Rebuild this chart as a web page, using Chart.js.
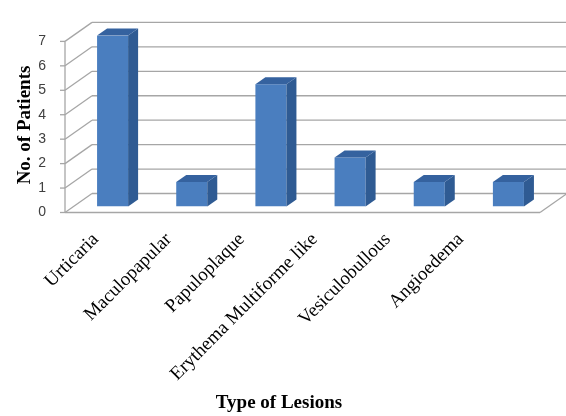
<!DOCTYPE html>
<html>
<head>
<meta charset="utf-8">
<script src="https://cdn.jsdelivr.net/npm/chart.js@4.4.1/dist/chart.umd.min.js"></script>
<style>
  html, body { margin: 0; padding: 0; background: #ffffff; }
  canvas { display: block; }
</style>
</head>
<body>
<canvas id="grafico" width="566" height="416"></canvas>
<script>
// datos del grafico
const lesiones = ["Urticaria", "Maculopapular", "Papuloplaque", "Erythema Multiforme like", "Vesiculobullous", "Angioedema"];
const pacientes = [7, 1, 5, 2, 1, 1];
const marcasY = [0, 1, 2, 3, 4, 5, 6, 7];
const tituloY = "No. of Patients";
const tituloX = "Type of Lesions";

// desplazamientos de la perspectiva 3D (en pixeles)
const FRENTE = { dx: -8, dy: 6 };    // plano frontal respecto al plano de las barras
const FONDO = { dx: 19, dy: -13 };   // pared del fondo respecto al plano de las barras
const PROF_BARRA = { dx: 10, dy: -7 }; // profundidad de cada barra

const colorFrente = "#4a7ebf";
const colorLado = "#2f5b93";
const colorTecho = "#35629f";
const colorRejilla = "#a6a6a6";
const fuenteSerif = "'Liberation Serif', 'Times New Roman', serif";

const linea = (c, x1, y1, x2, y2) => {
  c.beginPath();
  c.moveTo(x1, y1);
  c.lineTo(x2, y2);
  c.stroke();
};

const poligono = (c, puntos, color) => {
  c.beginPath();
  c.moveTo(puntos[0][0], puntos[0][1]);
  for (let i = 1; i < puntos.length; i++) c.lineTo(puntos[i][0], puntos[i][1]);
  c.closePath();
  c.fillStyle = color;
  c.fill();
};

//***************** PAREDES Y REJILLA *****************/
const paredes3D = {
  id: "paredes3D",
  beforeDatasetsDraw(chart) {
    const c = chart.ctx;
    const area = chart.chartArea;
    const ejeY = chart.scales.y;
    c.save();
    c.strokeStyle = colorRejilla;
    c.lineWidth = 1.3;

    marcasY.forEach((v) => {
      const y = ejeY.getPixelForValue(v);
      // pared del fondo
      linea(c, area.left + FONDO.dx, y + FONDO.dy, area.right + FONDO.dx, y + FONDO.dy);
      // pared izquierda
      linea(c, area.left + FRENTE.dx, y + FRENTE.dy, area.left + FONDO.dx, y + FONDO.dy);
      // marcas del eje
      linea(c, area.left + FRENTE.dx - 5, y + FRENTE.dy, area.left + FRENTE.dx, y + FRENTE.dy);
    });

    const yCero = ejeY.getPixelForValue(0);
    const yTope = ejeY.getPixelForValue(marcasY[marcasY.length - 1]);
    // arista frontal de la pared izquierda
    linea(c, area.left + FRENTE.dx, yTope + FRENTE.dy, area.left + FRENTE.dx, yCero + FRENTE.dy);
    // suelo
    linea(c, area.left + FRENTE.dx, yCero + FRENTE.dy, area.right + FRENTE.dx, yCero + FRENTE.dy);
    linea(c, area.right + FRENTE.dx, yCero + FRENTE.dy, area.right + FONDO.dx, yCero + FONDO.dy);
    c.restore();
  },

  //***************** LADOS DE LAS BARRAS ***************/
  afterDatasetsDraw(chart) {
    const c = chart.ctx;
    const meta = chart.getDatasetMeta(0);
    c.save();
    meta.data.forEach((barra) => {
      const { x, y, base, width } = barra.getProps(["x", "y", "base", "width"], true);
      const izq = x - width / 2;
      const der = x + width / 2;
      poligono(c, [
        [der, y], [der + PROF_BARRA.dx, y + PROF_BARRA.dy],
        [der + PROF_BARRA.dx, base + PROF_BARRA.dy], [der, base]
      ], colorLado);
      poligono(c, [
        [izq, y], [izq + PROF_BARRA.dx, y + PROF_BARRA.dy],
        [der + PROF_BARRA.dx, y + PROF_BARRA.dy], [der, y]
      ], colorTecho);
    });
    c.restore();
  },

  //***************** ETIQUETAS Y TITULOS ***************/
  afterDraw(chart) {
    const c = chart.ctx;
    const ejeX = chart.scales.x;
    const yCero = chart.scales.y.getPixelForValue(0);
    c.save();
    c.fillStyle = "#000000";

    // etiquetas de categoria inclinadas 45 grados (con la perspectiva del suelo)
    c.font = "19px " + fuenteSerif;
    c.textAlign = "right";
    c.textBaseline = "middle";
    ejeX.ticks.forEach((marca, i) => {
      const xb = ejeX.getPixelForTick(i);
      const xe = 0.922 * xb - 8;
      c.save();
      c.translate(xe, yCero + 30);
      c.rotate(-Math.PI / 4);
      c.fillText(ejeX.getLabelForValue(marca.value), 0, 0);
      c.restore();
    });

    c.font = "bold 19px " + fuenteSerif;
    c.textAlign = "center";
    c.fillText(tituloX, 279, 403);
    c.translate(25, 125);
    c.rotate(-Math.PI / 2);
    c.fillText(tituloY, 0, 0);
    c.restore();
  }
};

//***************** DIBUJANDO EL GRAFICO **************/
const ctx = document.getElementById("grafico");

new Chart(ctx, {
  type: "bar",
  data: {
    labels: lesiones,
    datasets: [
      {
        label: tituloY,
        data: pacientes,
        backgroundColor: colorFrente,
        borderWidth: 0,
        barPercentage: 0.392,
        categoryPercentage: 1,
      },
    ],
  },
  options: {
    responsive: false,
    animation: false,
    devicePixelRatio: 1,
    layout: { padding: { top: 24.5, right: 18, left: 0, bottom: 0 } },
    plugins: {
      legend: { display: false },
      tooltip: { enabled: false },
    },
    scales: {
      x: {
        grid: { display: false, drawTicks: false },
        border: { display: false },
        ticks: { display: false, autoSkip: false },
        afterFit: (eje) => { eje.height = 209.5; },
      },
      y: {
        min: 0,
        max: 7,
        grid: { display: false, drawTicks: false },
        border: { display: false },
        ticks: {
          stepSize: 1,
          padding: 27,
          labelOffset: 6,
          color: "#404040",
          font: { family: "'Liberation Sans', Arial, sans-serif", size: 14 },
        },
        afterFit: (eje) => { eje.width = 73; },
      },
    },
  },
  plugins: [paredes3D],
});
</script>
</body>
</html>
